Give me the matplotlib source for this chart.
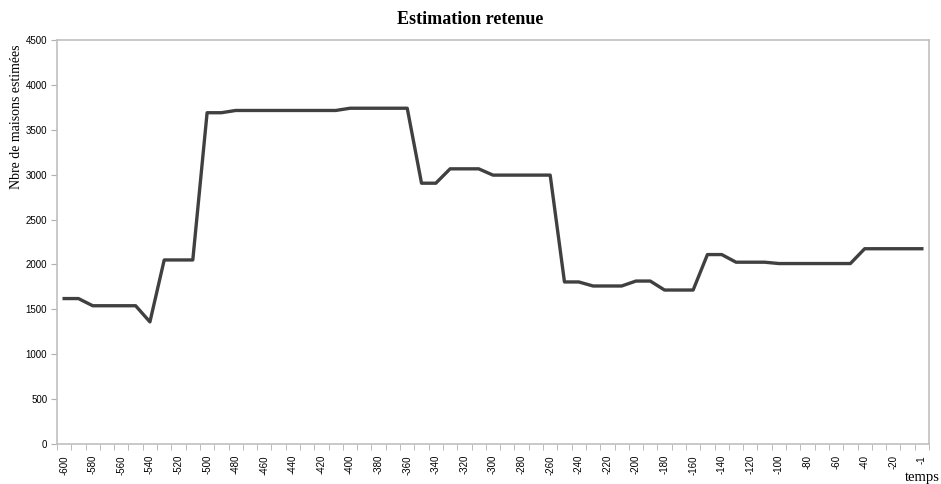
import numpy as np
import matplotlib.pyplot as plt
from matplotlib.ticker import FixedLocator, MultipleLocator

# Categories (time steps) and estimated values
temps = list(range(-600, 0, 10)) + [-1]
estimation = [1620, 1620, 1540, 1540, 1540, 1540, 1360, 2050, 2050, 2050,
              3690, 3690, 3715, 3715, 3715, 3715, 3715, 3715, 3715, 3715,
              3740, 3740, 3740, 3740, 3740, 2905, 2905, 3065, 3065, 3065,
              2995, 2995, 2995, 2995, 2995, 1805, 1805, 1760, 1760, 1760,
              1815, 1815, 1715, 1715, 1715, 2110, 2110, 2025, 2025, 2025,
              2010, 2010, 2010, 2010, 2010, 2010, 2175, 2175, 2175, 2175,
              2175]
tick_labels = [str(t) for t in temps]

serif = 'Liberation Serif'
sans = 'Liberation Sans'

fig = plt.figure(figsize=(9.41, 4.84), dpi=100)
ax = fig.add_axes([57 / 941, 40 / 484, (929 - 57) / 941, (444 - 40) / 484])

x = np.arange(len(temps))
ax.plot(x, estimation, color='#404040', linewidth=2.4, solid_joinstyle='round')

ax.set_xlim(-0.5, len(temps) - 0.5)
ax.set_ylim(0, 4500)
ax.yaxis.set_major_locator(MultipleLocator(500))

# labels every 2 categories, tick marks between categories
ax.xaxis.set_major_locator(FixedLocator(x[::2]))
ax.set_xticklabels(tick_labels[::2], rotation=90, fontfamily=sans, fontsize=7)
ax.xaxis.set_minor_locator(FixedLocator(np.arange(len(temps) + 1) - 0.5))
ax.tick_params(axis='x', which='major', length=0, pad=8)
ax.tick_params(axis='x', which='minor', length=4, color='#b0b0b0', direction='out')
ax.tick_params(axis='y', length=4, color='#b0b0b0', labelsize=7, pad=3)
for lab in ax.get_yticklabels():
    lab.set_fontfamily(sans)

for s in ax.spines.values():
    s.set_color('#c0c0c0')
    s.set_linewidth(1.2)

fig.text(470 / 941, 1 - 20 / 484, 'Estimation retenue', ha='center', va='center',
         fontfamily=serif, fontweight='bold', fontsize=13)
fig.text(17 / 941, 1 - 117 / 484, 'Nbre de maisons estimées', ha='center', va='center',
         rotation=90, fontfamily=serif, fontsize=10)
fig.text(922 / 941, 1 - 477 / 484, 'temps', ha='center', va='center',
         fontfamily=serif, fontsize=10.5)

fig.savefig('out.png', dpi=100)
